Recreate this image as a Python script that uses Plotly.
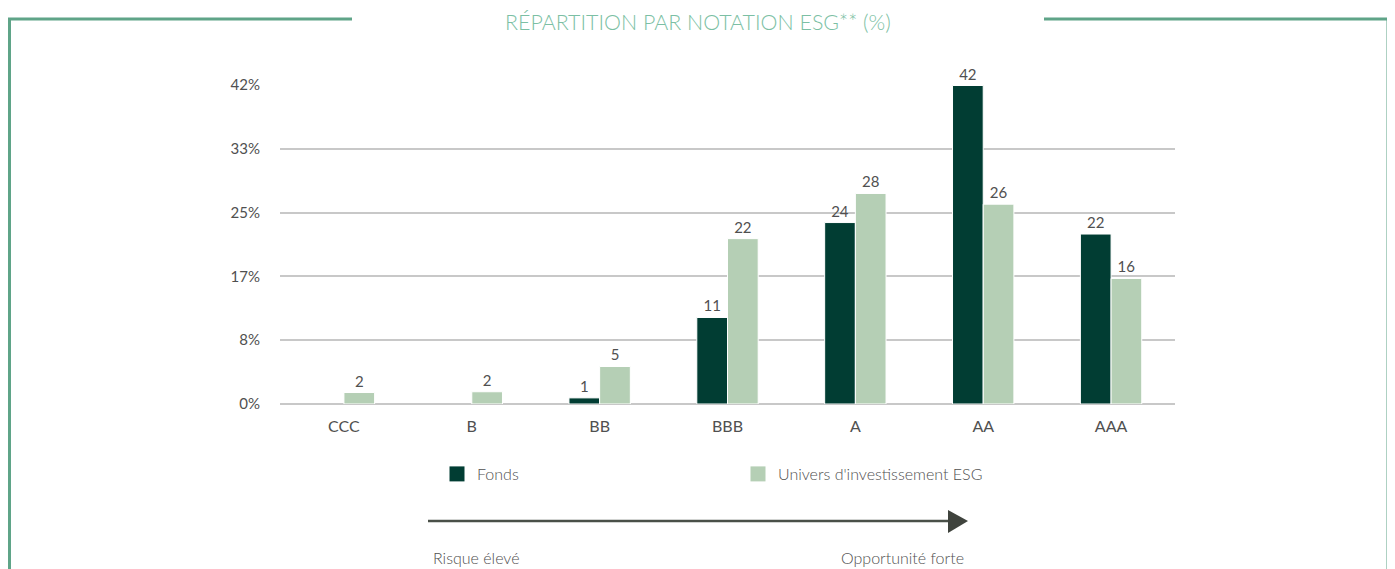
import plotly.graph_objects as go

# Data
ratings = ['CCC', 'B', 'BB', 'BBB', 'A', 'AA', 'AAA']
fonds = [None, None, 0.8, 11.3, 23.7, 41.6, 22.2]
univers = [1.5, 1.6, 4.9, 21.6, 27.5, 26.1, 16.4]
y_ticks = [0, 25 / 3, 50 / 3, 25, 100 / 3, 125 / 3]
y_tick_labels = ['0%', '8%', '17%', '25%', '33%', '42%']

DARK = '#013d33'
LIGHT = '#b5cfb5'
FRAME = '#5fa488'
TITLE = '#7cbfa4'
TXT = '#505050'
FONT = 'Lato'

# page has a small body margin, so the figure is drawn a bit smaller and shifted
OX, OY = 8, 7
W, H = 1395 - OX, 569 - OY
L, R, T, B = 280 - OX, 220, 84 - OY, 166
pw, ph = W - L - R, H - T - B


def fx(px):
    return (px - OX - L) / pw


def fy(py):
    return (H - B - (py - OY)) / ph


def labels(vals):
    return ['' if v is None else f'{v:.0f}' for v in vals]


fig = go.Figure()
series = [('Fonds', fonds, DARK), ("Univers d'investissement ESG", univers, LIGHT)]
for name, vals, col in series:
    fig.add_trace(go.Bar(x=ratings, y=vals, name=name, showlegend=False,
                         marker=dict(color=col, line=dict(color='white', width=1)),
                         text=labels(vals), textposition='outside', cliponaxis=False, constraintext='none',
                         textfont=dict(size=15, color=TXT, family=FONT)))
# bigger square swatches for the legend
for name, vals, col in series:
    fig.add_trace(go.Scatter(x=[None], y=[None], name=name, mode='markers',
                             marker=dict(symbol='square', size=15, color=col)))

# frame around the chart, broken by the title
frame = [
    (fx(8), fy(18), fx(352), fy(18)),
    (fx(9.5), fy(17), fx(9.5), fy(575)),
    (fx(1044), fy(18), fx(1389), fy(18)),
    (fx(1388), fy(17), fx(1388), fy(575)),
]
for x0, y0, x1, y1 in frame:
    fig.add_shape(type='line', xref='paper', yref='paper', x0=x0, y0=y0, x1=x1, y1=y1,
                  line=dict(color=FRAME, width=3))

# risk -> opportunity arrow
fig.add_shape(type='line', xref='paper', yref='paper', x0=fx(428), y0=fy(520), x1=fx(950), y1=fy(520),
              line=dict(color='#4a5048', width=2.5))
fig.add_shape(type='path', xref='paper', yref='paper',
              path=f'M {fx(948)} {fy(509)} L {fx(968)} {fy(520)} L {fx(948)} {fy(532)} Z',
              fillcolor='#3f433d', line=dict(width=0))

fig.add_annotation(text='RÉPARTITION PAR NOTATION ESG** (%)', xref='paper', yref='paper',
                   x=fx(698), y=fy(21), xanchor='center', yanchor='middle', showarrow=False,
                   font=dict(size=21.4, color=TITLE, family=FONT, weight=300))
fig.add_annotation(text='Risque élevé', xref='paper', yref='paper', x=fx(476), y=fy(556),
                   xanchor='center', yanchor='middle', showarrow=False,
                   font=dict(size=16, color=TXT, family=FONT, weight=300))
fig.add_annotation(text='Opportunité forte', xref='paper', yref='paper', x=fx(902), y=fy(556),
                   xanchor='center', yanchor='middle', showarrow=False,
                   font=dict(size=16, color=TXT, family=FONT, weight=300))

fig.update_layout(
    width=W, height=H,
    margin=dict(l=L, r=R, t=T, b=B, pad=0),
    plot_bgcolor='white', paper_bgcolor='white',
    barmode='group', bargap=0.52, bargroupgap=0,
    font=dict(family=FONT, color=TXT, size=15),
    legend=dict(orientation='h', x=fx(437), y=fy(473), yanchor='middle', xanchor='left',
                entrywidth=256, entrywidthmode='pixels', font=dict(size=16, color=TXT, weight=300)),
    showlegend=True,
)
fig.update_xaxes(showgrid=False, showline=False, ticks='outside', ticklen=8, tickcolor='rgba(0,0,0,0)',
                 tickfont=dict(size=16, color=TXT))
fig.update_yaxes(range=[0, 125 / 3], tickvals=y_ticks, ticktext=y_tick_labels, showgrid=True,
                 gridcolor='#c8c8c8', gridwidth=2, zeroline=True, zerolinecolor='#c8c8c8', zerolinewidth=2,
                 showline=False, ticks='outside', ticklen=16, tickcolor='rgba(0,0,0,0)',
                 tickfont=dict(size=15, color=TXT))

fig.write_html('out.html')
